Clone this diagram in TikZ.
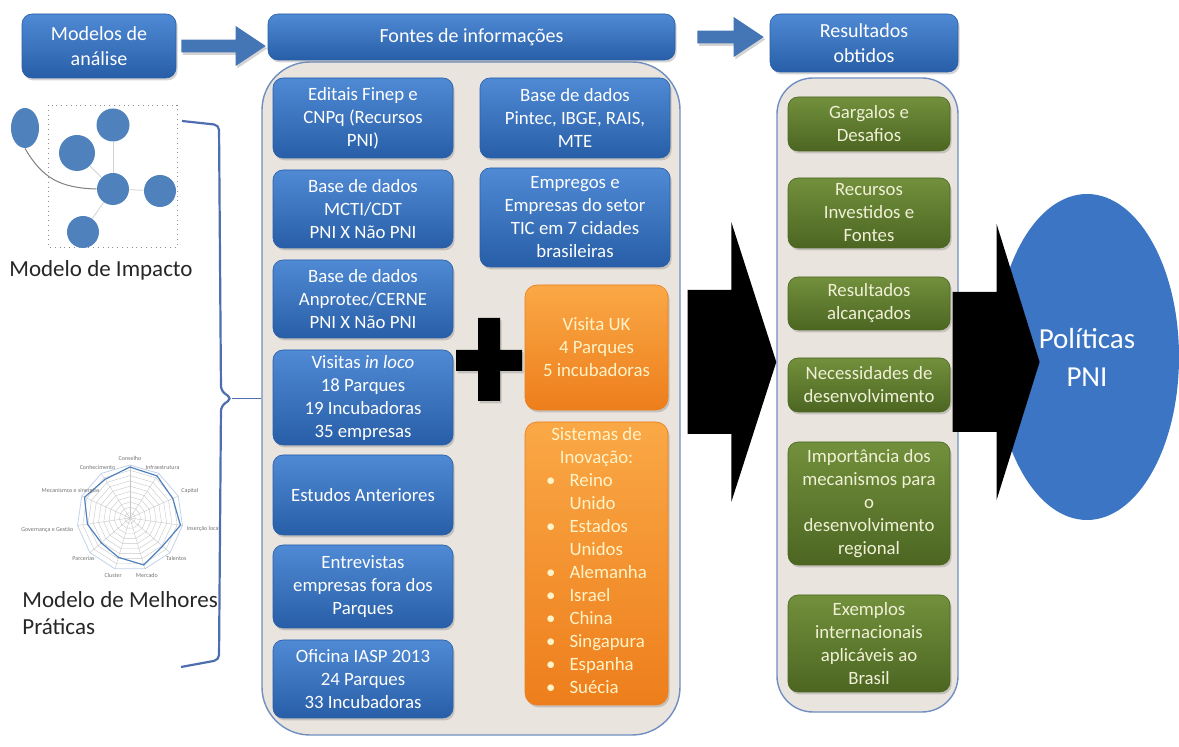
\documentclass[tikz,border=0pt]{standalone}
\usepackage{fontspec}
\setmainfont{Carlito}
\usetikzlibrary{calc,shapes.geometric,shadows}

\definecolor{boxblue}{RGB}{80,138,212}
\definecolor{boxbluedark}{RGB}{40,94,168}
\definecolor{panelfill}{RGB}{233,228,221}
\definecolor{paneldraw}{RGB}{112,142,192}
\definecolor{boxgreen}{RGB}{114,144,60}
\definecolor{boxgreendark}{RGB}{76,102,34}
\definecolor{boxorange}{RGB}{250,168,70}
\definecolor{boxorangedark}{RGB}{238,126,28}
\definecolor{polblue}{RGB}{59,117,196}
\definecolor{bubblecol}{RGB}{79,129,189}
\definecolor{brackcol}{RGB}{79,110,175}
\definecolor{greentext}{RGB}{240,240,214}
\definecolor{orangetext}{RGB}{255,243,200}

\begin{document}
\begin{tikzpicture}[x=0.5pt,y=-0.5pt,
  every node/.style={font=\fontsize{9.4}{11.5}\selectfont, align=center, inner sep=1pt},
  softshadow/.style={drop shadow={opacity=0.35,shadow xshift=0.8pt,shadow yshift=-1.2pt}},
  bluebox/.style={rounded corners=5pt, top color=boxblue, bottom color=boxbluedark, draw=boxbluedark, line width=0.3pt, text=white, softshadow},
  hdrbox/.style={bluebox, font=\fontsize{10}{12.5}\selectfont},
  greenbox/.style={rounded corners=5pt, top color=boxgreen, bottom color=boxgreendark, draw=boxgreendark, line width=0.3pt, text=greentext, softshadow, minimum width=81pt},
  orangebox/.style={rounded corners=6pt, top color=boxorange, bottom color=boxorangedark, draw=boxorangedark, line width=0.3pt, text=orangetext, softshadow, minimum width=71.5pt},
  panel/.style={fill=panelfill, draw=paneldraw, line width=0.7pt},
  hdrarrow/.style={fill=boxblue!85!black, softshadow},
  bigarrow/.style={fill=black},
  bubble/.style={circle, fill=bubblecol, inner sep=0pt},
  thinlink/.style={draw=black!18, line width=0.4pt},
  radargrid/.style={draw=black!22, line width=0.2pt},
  radarlbl/.style={font=\fontsize{3}{3.5}\selectfont, text=black!55, inner sep=0.5pt},
  lbltext/.style={font=\fontsize{11.5}{13.5}\selectfont, text=black!85},
  bracket/.style={draw=brackcol, line width=1.1pt, rounded corners=2.5pt}]

\useasboundingbox (0,0) rectangle (1179,747);

\def\blockarrow#1#2#3#4#5#6{\fill[#1] let \p1=#2, \p2=#3 in
  (\x1,\y1+#4) -- (\x2-#6,\y1+#4) -- (\x2-#6,\y1+#5) -- (\x2,\y1)
  -- (\x2-#6,\y1-#5) -- (\x2-#6,\y1-#4) -- (\x1,\y1-#4) -- cycle;}

\node[panel, rounded corners=24pt, minimum width=209pt, minimum height=336.5pt] (fontesbox) at (471,398.5) {};
\node[panel, rounded corners=18pt, minimum width=90.5pt, minimum height=317pt] (resbox) at (867.5,395) {};

\node[hdrbox, minimum width=77pt, minimum height=32pt] (modelos) at (99,46) {Modelos de\\análise};
\node[hdrbox, minimum width=203.5pt, minimum height=23pt] (fontes) at (471.5,37) {Fontes de informações};
\node[hdrbox, minimum width=94pt, minimum height=29pt] (resultados) at (864,43) {Resultados\\obtidos};

\blockarrow{hdrarrow}{($(modelos.east)+(5,0)$)}{($(fontes.west|-modelos.east)+(-2,0)$)}{3.2pt}{10pt}{15pt}
\blockarrow{hdrarrow}{($(fontes.east)+(22,0)$)}{($(resultados.west|-fontes.east)+(-6,0)$)}{3.2pt}{10pt}{15pt}

\node[bluebox, minimum width=90pt, minimum height=40pt] (editais) at (363,118) {Editais Finep e\\CNPq (Recursos\\PNI)};
\node[bluebox, minimum width=90pt, minimum height=39pt] (mcti) at (363,209) {Base de dados\\MCTI/CDT\\PNI X Não PNI};
\node[bluebox, minimum width=90pt, minimum height=39pt] (anprotec) at (363,299) {Base de dados\\Anprotec/CERNE\\PNI X Não PNI};
\node[bluebox, minimum width=90pt, minimum height=47.5pt] (visitas) at (363,397.5) {Visitas \textit{in loco}\\18 Parques\\19 Incubadoras\\35 empresas};
\node[bluebox, minimum width=90pt, minimum height=40pt] (estudos) at (363,495) {Estudos Anteriores};
\node[bluebox, minimum width=90pt, minimum height=41.5pt] (entrevistas) at (363,586.5) {Entrevistas\\empresas fora dos\\Parques};
\node[bluebox, minimum width=90pt, minimum height=39pt] (oficina) at (363,679) {Oficina IASP 2013\\24 Parques\\33 Incubadoras};

\node[bluebox, minimum width=95pt, minimum height=40pt] (pintec) at (575,118) {Base de dados\\Pintec, IBGE, RAIS,\\MTE};
\node[bluebox, minimum width=95pt, minimum height=49.5pt] (empregos) at (575,217.5) {Empregos e\\Empresas do setor\\TIC em 7 cidades\\brasileiras};

\node[orangebox, minimum height=62.5pt] (uk) at (596.5,347.5) {Visita UK\\4 Parques\\5 incubadoras};
\node[orangebox, minimum height=141.5pt] (sistemas) at (596.5,563.5) {Sistemas de\\Inovação:\\
  \begin{tabular}[t]{@{}l@{\hspace{7pt}}l@{}}
  \textbullet & Reino\\ & Unido\\
  \textbullet & Estados\\ & Unidos\\
  \textbullet & Alemanha\\
  \textbullet & Israel\\
  \textbullet & China\\
  \textbullet & Singapura\\
  \textbullet & Espanha\\
  \textbullet & Suécia
  \end{tabular}};

\coordinate (plus) at (489,360);
\fill[black, softshadow] ($(plus)+(-11,-42)$) rectangle ($(plus)+(11,41)$)
  ($(plus)+(-33,-10)$) rectangle ($(plus)+(33,11)$);

\node[greenbox, minimum height=27pt] (gargalos) at (869,124) {Gargalos e\\Desafios};
\node[greenbox, minimum height=35pt] (recursos) at (869,213) {Recursos\\Investidos e\\Fontes};
\node[greenbox, minimum height=26.5pt] (alcancados) at (869,303.5) {Resultados\\alcançados};
\node[greenbox, minimum height=27pt] (necessidades) at (869,385) {Necessidades de\\desenvolvimento};
\node[greenbox, minimum height=61.5pt] (importancia) at (869,503.5) {Importância dos\\mecanismos para\\o\\desenvolvimento\\regional};
\node[greenbox, minimum height=48.5pt] (exemplos) at (869,643.5) {Exemplos\\internacionais\\aplicáveis ao\\Brasil};

\node[ellipse, fill=polblue, text=white, minimum width=92pt, minimum height=163pt, font=\fontsize{14.5}{19}\selectfont] (politicas) at (1087,357) {Políticas\\PNI};

\blockarrow{bigarrow}{($(fontesbox.east|-plus)+(7,2)$)}{(resbox.west|-plus)}{36pt}{70pt}{22.5pt}
\blockarrow{bigarrow}{($(resbox.east|-plus)+(-6,2)$)}{($(politicas.west|-plus)+(45,0)$)}{35pt}{69pt}{21.5pt}

\draw[dotted, black!45, line width=0.4pt] (48,105) rectangle (177,247);
\node[bubble, ellipse, minimum width=14pt, minimum height=20pt] (pol) at (25,128) {};
\node[bubble, minimum size=16.5pt] (topc) at (113,125) {};
\node[bubble, minimum size=18pt] (leftc) at (77,153) {};
\node[bubble, minimum size=16pt] (ctr) at (113,189) {};
\node[bubble, minimum size=16pt] (rightc) at (160,191) {};
\node[bubble, minimum size=16pt] (botc) at (83,232) {};
\draw[thinlink] (ctr) -- (topc);
\draw[thinlink] (ctr) -- (leftc);
\draw[thinlink] (ctr) -- (rightc);
\draw[thinlink] (ctr) -- (botc);
\draw[black!50, line width=0.5pt] (pol.south) .. controls (42,178) and (60,188) .. (ctr.west);
\node[lbltext] (impacto) at (101,270) {Modelo de Impacto};

\begin{scope}[shift={(130,518)},x=0.5pt,y=0.5pt]
\foreach \r in {1,...,9}
  \draw[radargrid] (90:\r*5.3) \foreach \k in {1,...,10} { -- ({90-\k*32.727}:\r*5.3) } -- cycle;
\draw[draw=bubblecol!35, line width=0.4pt] (90:53) \foreach \k in {1,...,10} { -- ({90-\k*32.727}:53) } -- cycle;
\foreach \k in {0,...,10}
  \draw[radargrid] (0,0) -- ({90-\k*32.727}:53);
\draw[draw=bubblecol, line width=0.6pt] (90:51) -- (57.27:50) -- (24.55:47) -- (-8.18:51) -- (-40.9:43)
  -- (-73.6:49) -- (-106.4:41) -- (-139.1:38) -- (-171.8:43) -- (155.5:50) -- (122.7:46) -- cycle;
\foreach \lbl [count=\k from 0] in {Conselho, Infraestrutura, Capital, Inserção local, Talentos, Mercado, Cluster, Parcerias, Governança e Gestão, Mecanismos e sinergias, Conhecimento} {
  \pgfmathsetmacro\ang{90-\k*32.727}
  \pgfmathtruncatemacro\anc{mod(\ang+540,360)}
  \node[radarlbl, anchor=\anc] at (\ang:56) {\lbl};
}
\end{scope}
\node[lbltext, align=left, anchor=west] (praticas) at (20,613) {Modelo de Melhores\\Práticas};

\coordinate (brk) at (232,398.5);
\draw[bracket] (182,121) -- (219,125) -- (221,391) -- (brk) -- (221,406) -- (219,660) -- (181,667);
\draw[bracket, line width=0.9pt] (brk) -- (fontesbox.west);

\end{tikzpicture}
\end{document}
